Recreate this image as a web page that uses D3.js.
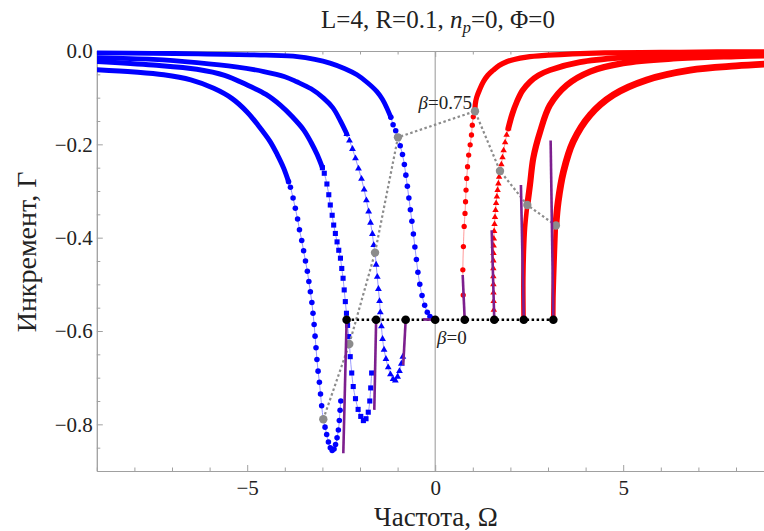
<!DOCTYPE html>
<html><head><meta charset="utf-8">
<script src="https://cdn.jsdelivr.net/npm/d3@7"></script>
<style>body{margin:0;background:#fff}svg{display:block}</style>
</head><body>
<script>
// ---------- data (Ω, Γ) ----------
const xMajorTicks = [-5, 0, 5];
const xMinorTicks = [-9,-8,-7,-6,-4,-3,-2,-1,1,2,3,4,6,7,8,9];
const yMajorTicks = [0, -0.2, -0.4, -0.6, -0.8];
const yMinorTicks = [-0.05,-0.1,-0.15,-0.25,-0.3,-0.35,-0.45,-0.5,-0.55,-0.65,-0.7,-0.75,-0.85];

const blueA_band = [[-9.05,-0.004],[-7.5,-0.005],[-6.3,-0.006],[-4.5,-0.009],[-3.67,-0.012],[-3.2,-0.018],[-2.8,-0.026],[-2.4,-0.038],[-2.08,-0.051],[-1.8,-0.068],[-1.55,-0.087],[-1.4,-0.104],[-1.28,-0.123],[-1.18,-0.142]];
const blueA_dots = [[-1.18,-0.142],[-1.12,-0.158],[-1.05,-0.171],[-0.99,-0.185],[-0.93,-0.203],[-0.87,-0.222],[-0.82,-0.243],[-0.78,-0.266],[-0.74,-0.290],[-0.70,-0.315],[-0.66,-0.340],[-0.62,-0.365],[-0.58,-0.392],[-0.54,-0.420],[-0.50,-0.447],[-0.46,-0.474],[-0.41,-0.500],[-0.35,-0.524],[-0.28,-0.545],[-0.21,-0.560],[-0.14,-0.569],[-0.07,-0.574]];

const blueB_band = [[-9.05,-0.014],[-7.5,-0.018],[-6.34,-0.025],[-5.3,-0.034],[-4.56,-0.044],[-4.0,-0.055],[-3.68,-0.066],[-3.3,-0.081],[-2.97,-0.101],[-2.72,-0.122],[-2.52,-0.150],[-2.35,-0.178]];
const blueB_dots = [[-2.35,-0.178],[-2.28,-0.192],[-2.20,-0.210],[-2.12,-0.230],[-2.04,-0.252],[-1.96,-0.274],[-1.89,-0.297],[-1.83,-0.320],[-1.77,-0.344],[-1.72,-0.368],[-1.67,-0.392],[-1.635,-0.416],[-1.60,-0.432],[-1.57,-0.458],[-1.54,-0.484],[-1.51,-0.510],[-1.48,-0.536],[-1.46,-0.560],[-1.43,-0.590],[-1.40,-0.617],[-1.36,-0.640],[-1.31,-0.660],[-1.25,-0.678],[-1.19,-0.693],[-1.12,-0.703],[-1.06,-0.706],[-1.00,-0.698],[-0.95,-0.686],[-0.90,-0.670],[-0.86,-0.655]];

const blueC_band = [[-9.05,-0.022],[-7.5,-0.030],[-6.34,-0.039],[-5.6,-0.052],[-5.0,-0.073],[-4.5,-0.093],[-4.12,-0.116],[-3.8,-0.141],[-3.5,-0.169],[-3.3,-0.196],[-3.14,-0.222],[-3.0,-0.250]];
const blueC_dots = [[-3.0,-0.250],[-2.95,-0.262],[-2.88,-0.285],[-2.83,-0.308],[-2.79,-0.330],[-2.74,-0.352],[-2.70,-0.373],[-2.655,-0.391],[-2.61,-0.409],[-2.565,-0.427],[-2.52,-0.444],[-2.485,-0.466],[-2.45,-0.487],[-2.42,-0.512],[-2.39,-0.537],[-2.36,-0.562],[-2.33,-0.588],[-2.30,-0.612],[-2.28,-0.628],[-2.26,-0.655],[-2.22,-0.690],[-2.18,-0.719],[-2.12,-0.745],[-2.05,-0.768],[-1.98,-0.783],[-1.91,-0.792],[-1.84,-0.788],[-1.78,-0.774],[-1.74,-0.750],[-1.715,-0.722],[-1.69,-0.690]];

const blueD_band = [[-9.05,-0.040],[-8.0,-0.045],[-7.22,-0.051],[-6.5,-0.062],[-5.89,-0.080],[-5.4,-0.102],[-5.01,-0.130],[-4.7,-0.160],[-4.39,-0.194],[-4.2,-0.222],[-4.03,-0.251],[-3.9,-0.280]];
const blueD_dots = [[-3.9,-0.280],[-3.85,-0.292],[-3.78,-0.315],[-3.72,-0.337],[-3.66,-0.360],[-3.61,-0.383],[-3.55,-0.406],[-3.50,-0.428],[-3.45,-0.450],[-3.40,-0.472],[-3.36,-0.494],[-3.32,-0.516],[-3.28,-0.539],[-3.25,-0.562],[-3.22,-0.586],[-3.195,-0.611],[-3.17,-0.636],[-3.145,-0.661],[-3.115,-0.686],[-3.08,-0.710],[-3.05,-0.735],[-3.02,-0.760],[-2.976,-0.789],[-2.93,-0.806],[-2.886,-0.822],[-2.84,-0.838],[-2.79,-0.850],[-2.74,-0.856],[-2.69,-0.853],[-2.65,-0.843],[-2.61,-0.829],[-2.575,-0.812],[-2.55,-0.792],[-2.53,-0.770],[-2.51,-0.750]];

const redA_band = [[9.05,-0.002],[7.5,-0.002],[6.0,-0.003],[4.5,-0.004],[3.66,-0.006],[3.0,-0.009],[2.43,-0.013],[2.1,-0.018],[1.90,-0.023],[1.70,-0.031],[1.545,-0.041],[1.40,-0.052],[1.28,-0.066],[1.18,-0.083],[1.10,-0.100],[1.065,-0.115],[1.058,-0.129]];
const redA_dots = [[1.058,-0.129],[1.013,-0.141],[0.987,-0.159],[0.965,-0.180],[0.93,-0.201],[0.89,-0.223],[0.86,-0.248],[0.838,-0.273],[0.82,-0.298],[0.807,-0.323],[0.793,-0.348],[0.77,-0.376],[0.75,-0.419],[0.735,-0.469],[0.745,-0.523],[0.765,-0.576]];

const redB_band = [[9.05,-0.005],[8.0,-0.006],[6.33,-0.009],[5.0,-0.014],[3.85,-0.024],[3.05,-0.041],[2.75,-0.052],[2.52,-0.066],[2.32,-0.085],[2.17,-0.109],[2.05,-0.135],[1.944,-0.166]];
const redB_dots = [[1.944,-0.166],[1.90,-0.180],[1.86,-0.196],[1.82,-0.213],[1.79,-0.228],[1.76,-0.243],[1.723,-0.257],[1.70,-0.270],[1.68,-0.284],[1.66,-0.298],[1.64,-0.312],[1.62,-0.326],[1.605,-0.341],[1.59,-0.356],[1.578,-0.371],[1.568,-0.386],[1.56,-0.402],[1.555,-0.417],[1.55,-0.433],[1.548,-0.449],[1.546,-0.466],[1.546,-0.483],[1.548,-0.500],[1.551,-0.518],[1.555,-0.536],[1.559,-0.555],[1.563,-0.574]];

const redC_band = [[9.05,-0.009],[8.0,-0.011],[6.33,-0.016],[5.0,-0.026],[4.12,-0.044],[3.50,-0.073],[3.05,-0.116],[2.79,-0.173],[2.61,-0.229],[2.52,-0.287],[2.45,-0.330]];
const redC_lower = [[2.45,-0.330],[2.39,-0.379],[2.36,-0.430],[2.345,-0.486],[2.345,-0.530],[2.35,-0.576]];
const redD_band = [[9.05,-0.027],[8.0,-0.032],[6.78,-0.041],[5.625,-0.062],[4.74,-0.094],[4.12,-0.137],[3.67,-0.194],[3.41,-0.259],[3.27,-0.323],[3.21,-0.374]];
const redD_lower = [[3.21,-0.374],[3.19,-0.416],[3.16,-0.486],[3.145,-0.530],[3.14,-0.576]];

const grayPoints = [[-2.976,-0.789],[-2.285,-0.628],[-1.60,-0.432],[-0.99,-0.185],[1.058,-0.129],[1.723,-0.257],[2.45,-0.330],[3.21,-0.374]];
const blackX = [-2.356,-1.571,-0.785,0,0.785,1.571,2.356,3.142];
const blackY = -0.576;
const purpleLines = [
  [[-0.32,-0.575],[0,-0.576]],
  [[-0.85,-0.673],[-0.785,-0.576]],
  [[-1.62,-0.769],[-1.571,-0.576]],
  [[-2.444,-0.862],[-2.356,-0.576]],
  [[0.731,-0.480],[0.785,-0.576]],
  [[1.503,-0.384],[1.571,-0.576]],
  [[2.28,-0.287],[2.356,-0.576]],
  [[3.07,-0.192],[3.142,-0.576]]
];
const labelBeta075 = [0.98, -0.124];
const labelBeta0 = [0.05, -0.627];

// ---------- chart ----------
const W = 764, H = 531;
const serif = "'Liberation Serif','Times New Roman',serif";
const svg = d3.select("body").append("svg").attr("width", W).attr("height", H);
const x = d3.scaleLinear().domain([-9, 9]).range([96.8, 773.6]);
const y = d3.scaleLinear().domain([-0.9, 0]).range([471, 51]);
const frameCol = "#a0a0a0";

svg.append("defs").append("clipPath").attr("id","clip")
  .append("rect").attr("x", 97).attr("y", 44).attr("width", W - 97).attr("height", 471 - 44);

// axis line Ω = 0
svg.append("line").attr("x1", x(0)).attr("x2", x(0)).attr("y1", y(0)).attr("y2", y(-0.9))
  .attr("stroke", "#a8a8a8").attr("stroke-width", 1.2);

function styleAxis(g){ g.selectAll("path,line").attr("stroke", frameCol); g.selectAll("text").attr("fill","#222").attr("font-family", serif).attr("font-size", 21); }

// bottom frame
svg.append("g").attr("transform", `translate(0,${y(-0.9)})`)
  .call(d3.axisBottom(x).tickValues(xMajorTicks).tickSizeInner(-6).tickSizeOuter(0).tickPadding(9).tickFormat(d3.format("d")))
  .call(styleAxis);
svg.append("g").attr("transform", `translate(0,${y(-0.9)})`)
  .call(d3.axisBottom(x).tickValues(xMinorTicks).tickSizeInner(-3.5).tickSizeOuter(0).tickFormat(""))
  .call(styleAxis);
// top frame (Γ = 0)
svg.append("g").attr("transform", `translate(0,${y(0)})`)
  .call(d3.axisTop(x).tickValues(xMajorTicks).tickSizeInner(-6).tickSizeOuter(0).tickFormat(""))
  .call(styleAxis);
svg.append("g").attr("transform", `translate(0,${y(0)})`)
  .call(d3.axisTop(x).tickValues(xMinorTicks).tickSizeInner(-3.5).tickSizeOuter(0).tickFormat(""))
  .call(styleAxis);
// left frame
svg.append("g").attr("transform", `translate(${x(-9)},0)`)
  .call(d3.axisLeft(y).tickValues(yMajorTicks).tickSizeInner(-6).tickSizeOuter(0).tickPadding(4).tickFormat(d3.format(".1f")))
  .call(styleAxis);
svg.append("g").attr("transform", `translate(${x(-9)},0)`)
  .call(d3.axisLeft(y).tickValues(yMinorTicks).tickSizeInner(-3.5).tickSizeOuter(0).tickFormat(""))
  .call(styleAxis);

// titles
const t = svg.append("text").attr("x", 438).attr("y", 28).attr("text-anchor","middle")
  .attr("font-family", serif).attr("font-size", 25).attr("fill","#222");
t.append("tspan").text("L=4, R=0.1, ");
t.append("tspan").attr("font-style","italic").text("n");
t.append("tspan").attr("font-style","italic").attr("font-size",17).attr("dy",5).text("p");
t.append("tspan").attr("dy",-5).text("=0, Φ=0");

svg.append("text").attr("x", 436).attr("y", 526).attr("text-anchor","middle")
  .attr("font-family", serif).attr("font-size", 27).attr("fill","#222").text("Частота, Ω");
svg.append("text").attr("transform","translate(36,252) rotate(-90)").attr("text-anchor","middle")
  .attr("font-family", serif).attr("font-size", 28).attr("fill","#222").text("Инкремент, Г");

// plot layer
const plot = svg.append("g").attr("clip-path","url(#clip)");
const line = d3.line().x(d => x(d[0])).y(d => y(d[1])).curve(d3.curveCatmullRom);

const series = [
  {band: blueA_band, dots: blueA_dots, lower: [], col: "#0000ff", thin: "#9a9aff", sym: d3.symbolCircle, size: 24, bw: 4.8},
  {band: blueB_band, dots: blueB_dots, lower: [], col: "#0000ff", thin: "#9a9aff", sym: d3.symbolTriangle, size: 20, bw: 4.8},
  {band: blueC_band, dots: blueC_dots, lower: [], col: "#0000ff", thin: "#9a9aff", sym: d3.symbolSquare, size: 26, bw: 5},
  {band: blueD_band, dots: blueD_dots, lower: [], col: "#0000ff", thin: "#9a9aff", sym: d3.symbolCircle, size: 24, bw: 5},
  {band: redA_band, dots: redA_dots, lower: [], col: "#ff0000", thin: "#ff9a9a", sym: d3.symbolCircle, size: 22, bw: 5.2},
  {band: redB_band, dots: redB_dots, lower: [], col: "#ff0000", thin: "#ff9a9a", sym: d3.symbolTriangle, size: 18, bw: 5.8},
  {band: redC_band, dots: [], lower: redC_lower, col: "#ff0000", thin: "#ff9a9a", sym: d3.symbolSquare, size: 22, bw: 6.2},
  {band: redD_band, dots: [], lower: redD_lower, col: "#ff0000", thin: "#ff9a9a", sym: d3.symbolSquare, size: 22, bw: 6.8}
];

series.forEach(s => {
  const all = s.band.concat(s.dots.slice(1));
  plot.append("path").attr("d", line(all)).attr("fill","none").attr("stroke", s.thin).attr("stroke-width", 1);
  plot.append("path").attr("d", line(s.band)).attr("fill","none").attr("stroke", s.col)
    .attr("stroke-width", s.bw).attr("stroke-linecap","round").attr("stroke-linejoin","round");
  if (s.lower.length) {
    plot.append("path").attr("d", line(s.lower)).attr("fill","none").attr("stroke", s.col)
      .attr("stroke-width", 4.6).attr("stroke-linecap","butt");
  }
  plot.append("g").selectAll("path").data(s.dots).join("path")
    .attr("transform", d => `translate(${x(d[0])},${y(d[1])})`)
    .attr("d", d3.symbol().type(s.sym).size(s.size)).attr("fill", s.col);
});

// gray β=0.75 line
plot.append("path").attr("d", d3.line().x(d=>x(d[0])).y(d=>y(d[1]))(grayPoints))
  .attr("fill","none").attr("stroke","#8c8c8c").attr("stroke-width",2.2).attr("stroke-dasharray","2.5,2.5");
plot.append("g").selectAll("circle").data(grayPoints).join("circle")
  .attr("cx", d=>x(d[0])).attr("cy", d=>y(d[1])).attr("r", 4.2).attr("fill","#8c8c8c");

// black β=0 line
plot.append("line").attr("x1", x(blackX[0])).attr("x2", x(blackX[blackX.length-1]))
  .attr("y1", y(blackY)).attr("y2", y(blackY))
  .attr("stroke","#000").attr("stroke-width",2.5).attr("stroke-dasharray","2.5,2.5");

// purple lines
plot.append("g").selectAll("path").data(purpleLines).join("path")
  .attr("d", d => d3.line().x(p=>x(p[0])).y(p=>y(p[1]))(d))
  .attr("fill","none").attr("stroke","#7d1f8e").attr("stroke-width",2.6);

// black points
plot.append("g").selectAll("circle").data(blackX).join("circle")
  .attr("cx", d=>x(d)).attr("cy", y(blackY)).attr("r", 4.3).attr("fill","#000");

// labels
const l1 = svg.append("text").attr("x", x(labelBeta075[0])).attr("y", y(labelBeta075[1]))
  .attr("text-anchor","end").attr("font-family", serif).attr("font-size", 19).attr("fill","#222");
l1.append("tspan").attr("font-style","italic").text("β");
l1.append("tspan").text("=0.75");
const l2 = svg.append("text").attr("x", x(labelBeta0[0])).attr("y", y(labelBeta0[1]))
  .attr("text-anchor","start").attr("font-family", serif).attr("font-size", 19).attr("fill","#222");
l2.append("tspan").attr("font-style","italic").text("β");
l2.append("tspan").text("=0");
</script>
</body></html>
